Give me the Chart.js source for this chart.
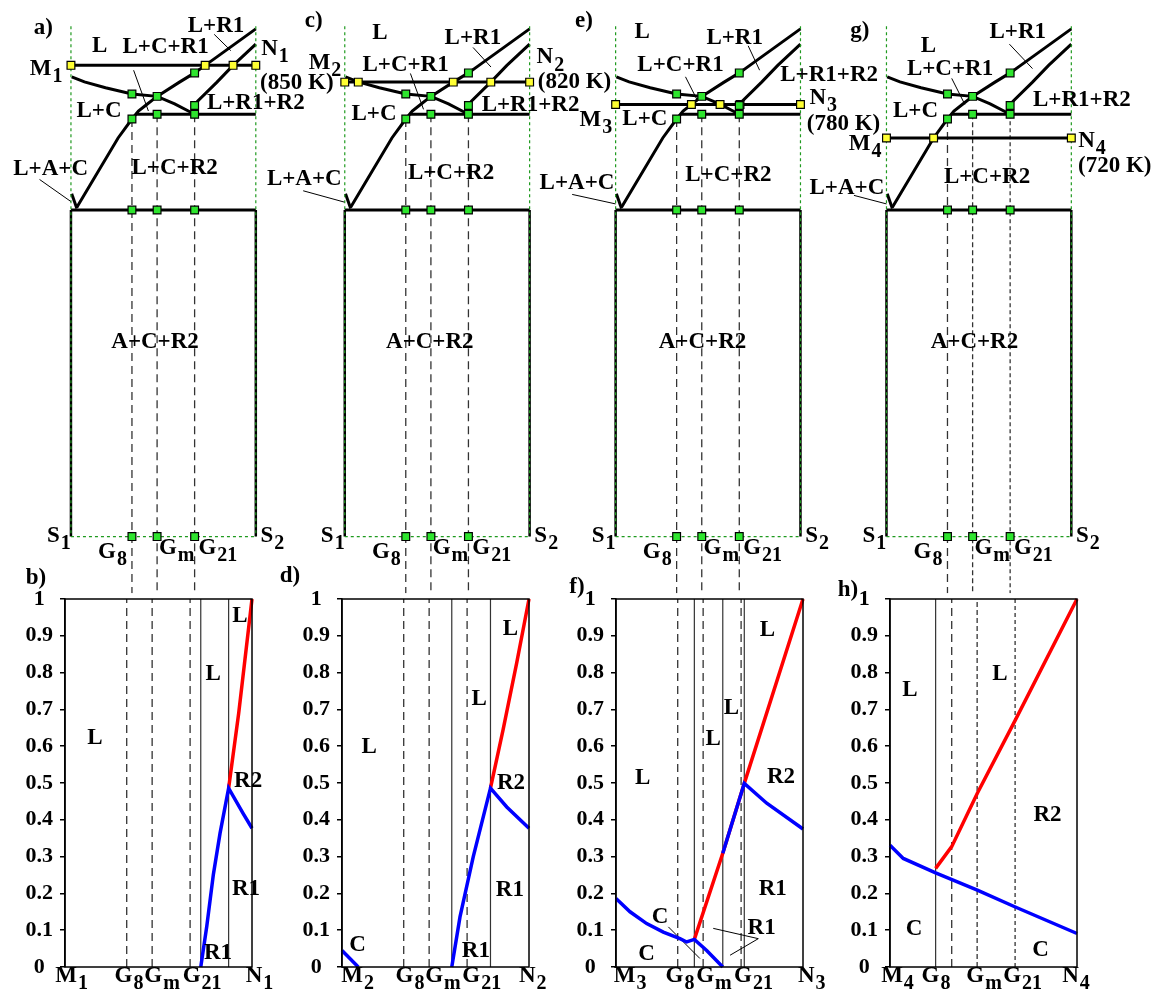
<!DOCTYPE html>
<html><head><meta charset="utf-8">
<script src="https://cdn.jsdelivr.net/npm/chart.js@4.4.1/dist/chart.umd.min.js"></script>
<style>
html,body{margin:0;padding:0;background:#fff;}
#wrap{position:relative;width:1166px;height:1002px;overflow:hidden;background:#fff}
canvas{position:absolute}
</style></head><body><div id="wrap"></div>
<script>
// ================= DATA =================
// Phase diagram section S1–S2 (x: composition fraction from S1 to S2, y: temperature, K)
const sectionSubs = ['8', 'm', '21'];
const sectionX = [0.33, 0.466, 0.669];
const sectionStartT = [754, 762.5, 762.5];
const topT = 920, eutecticT = 591, baseT = 6.5, peritecticT = 762.5, peritecticFrom = 0.351;
const liquidusC = [[0.004,829.5],[0.073,820.5],[0.187,810],[0.33,798.7],[0.466,794.5],[0.561,780.9],[0.669,762.5]];
const liquidusR1 = [[0.032,596],[0.255,720],[0.33,754],[0.365,768.3],[0.41,780],[0.466,794.5],[0.587,820],[0.669,836.5],[0.726,850],[1,915.3]];
const boundaryR1R2 = [[0.669,778.25],[0.685,786],[0.79,820],[0.877,850],[1,888]];
const eutecticArm = [[0.004,620],[0.032,594]];
const greenPoints = [[0.33,798.7],[0.33,754],[0.33,591],[0.33,6.5],[0.466,794.5],[0.466,762.5],[0.466,591],[0.466,6.5],
                     [0.669,836.5],[0.669,778.25],[0.669,762.5],[0.669,591],[0.669,6.5]];
// isothermal sections M–N
const mnSubs = ['1','2','3','4'];
const mnT = [850, 820, 780, 720];
const yellowA = [0, 0.726, 0.877, 1];
const yellowC = [0, 0.073, 0.587, 0.79, 1];
const yellowE = [0, 0.41, 0.565, 0.673, 1];
const yellowG = [0, 0.255, 1];
// Phase fractions along M–N (x: composition, y: fraction)
const yTickLabels = ['0','0.1','0.2','0.3','0.4','0.5','0.6','0.7','0.8','0.9','1'];
const redB  = [[0.875,0.486],[0.929,0.69],[1,1]];
const blueB = [[0.726,0],[0.758,0.11],[0.793,0.25],[0.829,0.363],[0.875,0.486],[0.953,0.417],[1,0.377]];
const vertB = [0.726, 0.875];
const redD  = [[0.794,0.486],[0.861,0.644],[0.934,0.826],[1,1]];
const blueD1 = [[0,0.045],[0.087,0]];
const blueD2 = [[0.587,0],[0.631,0.136],[0.702,0.3],[0.794,0.486],[0.881,0.435],[1,0.377]];
const vertD = [0.587, 0.794];
const redF  = [[0.419,0.075],[0.571,0.309],[0.686,0.499],[1,1]];
const blueF1 = [[0,0.186],[0.075,0.15],[0.164,0.118],[0.253,0.095],[0.342,0.077],[0.378,0.068],[0.419,0.075],[0.485,0.045],[0.571,0]];
const blueF2 = [[0.571,0.309],[0.686,0.499],[0.806,0.445],[1,0.375]];
const vertF = [0.419, 0.571, 0.686];
const redH  = [[0.244,0.268],[0.33,0.327],[0.467,0.472],[0.67,0.671],[1,1]];
const blueH = [[0,0.331],[0.071,0.295],[0.244,0.256],[0.467,0.209],[0.67,0.163],[1,0.091]];
const vertH = [0.244];

// ================= LAYOUT / LABELS =================
const panelX0 = [65, 342, 616, 890];
const PW = 187;
const commonTop = [['S','1',-0.065,8.25],['S','2',1.09,8.25],['G','8',0.225,-21.5],['G','m',0.572,-14.5],['G','21',0.795,-14.5]];
const topLabels = [
 [['a)','',-0.15,916.5],['L','',0.155,885],['L+R1','',0.785,920],['L+C+R1','',0.512,883.6],['M','1',-0.134,843],['N','1',1.104,879],
  ['(850 K)','',1.222,818.5],['L+C','',0.152,768],['L+R1+R2','',1.0,783],['L+C+R2','',0.561,666.25],['L+A+C','',-0.11,664.5],['A+C+R2','',0.455,354.75]],
 [['c)','',-0.168,928.75],['L','',0.19,907],['L+R1','',0.693,899.5],['L+C+R1','',0.329,850],['M','2',-0.107,855],['N','2',1.112,864],
  ['(820 K)','',1.243,820.25],['L+C','',0.158,762.5],['L+R1+R2','',1.005,778.25],['L+C+R2','',0.575,657.5],['L+A+C','',-0.219,647],['A+C+R2','',0.46,354.75]],
 [['e)','',-0.171,928.75],['L','',0.144,909.5],['L+R1','',0.644,899.6],['L+C+R1','',0.351,850],['M','3',-0.107,752],['N','3',1.123,792],
  ['(780 K)','',1.233,745],['L+C','',0.158,754.6],['L+R1+R2','',1.155,832.5],['L+C+R2','',0.61,653],['L+A+C','',-0.209,640],['A+C+R2','',0.47,354.75]],
 [['g)','',-0.144,911],['L','',0.227,884],['L+R1','',0.71,909.8],['L+C+R1','',0.344,844],['M','4',-0.115,710],['N','4',1.112,715],
  ['(720 K)','',1.235,669.75],['L+C','',0.157,768.3],['L+R1+R2','',1.057,788.75],['L+C+R2','',0.544,649.6],['L+A+C','',-0.214,631],['A+C+R2','',0.476,354.75]]
];
const topLeaders = [
 [[[0.339,841.25],[0.419,768.3]],[[0.775,905.5],[0.865,876.25]],[[-0.17,645.8],[0,606.2]]],
 [[[0.355,835.5],[0.426,771.25]],[[0.694,882],[0.791,847]],[[-0.225,625.5],[0,605]]],
 [[[0.378,829.5],[0.44,788.75]],[[0.717,885],[0.779,841.25]],[[-0.235,619],[0,602]]],
 [[[0.353,826.7],[0.424,780]],[[0.665,888],[0.79,844.2]],[[-0.176,617.25],[0,602]]]
];
const topYellow = [yellowA, yellowC, yellowE, yellowG];
const topDash = [[[8,5],[8,5],[8,5]],[[8,5],[8,5],[8,5]],[[8,5],[8,5],[8,5]],[[8,5],[5,3],[4,3]]];

const bottomLabels = [
 [['b)','',-0.155,1.058],['L','',0.16,0.622],['L','',0.793,0.797],['L','',0.936,0.953],['R2','',0.979,0.504],['R1','',0.968,0.213],['R1','',0.818,0.039],
  ['M','1',0.035,-0.025],['G','8',0.342,-0.025],['G','m',0.519,-0.025],['G','21',0.733,-0.025],['N','1',1.04,-0.025]],
 [['d)','',-0.278,1.062],['L','',0.145,0.599],['L','',0.733,0.729],['L','',0.9,0.919],['R2','',0.904,0.499],['R1','',0.898,0.21],['R1','',0.716,0.043],['C','',0.083,0.059],
  ['M','2',0.083,-0.025],['G','8',0.364,-0.025],['G','m',0.54,-0.025],['G','21',0.747,-0.025],['N','2',1.02,-0.025]],
 [['f)','',-0.209,1.032],['L','',0.142,0.513],['L','',0.519,0.619],['L','',0.617,0.703],['L','',0.81,0.916],['R2','',0.882,0.517],['R1','',0.838,0.213],['R1','',0.779,0.107],['C','',0.235,0.136],['C','',0.164,0.036],
  ['M','3',0.075,-0.025],['G','8',0.342,-0.025],['G','m',0.524,-0.025],['G','21',0.735,-0.025],['N','3',1.047,-0.025]],
 [['h)','',-0.225,1.025],['L','',0.107,0.753],['L','',0.588,0.797],['R2','',0.842,0.413],['C','',0.128,0.104],['C','',0.805,0.045],
  ['M','4',0.04,-0.025],['G','8',0.246,-0.025],['G','m',0.503,-0.025],['G','21',0.709,-0.025],['N','4',0.995,-0.025]]
];
const bottomLeaders = [[],[],[[[0.28,0.109],[0.449,0.023]],[[0.761,0.077],[0.52,0.105]],[[0.761,0.077],[0.61,0.032]]],[]];
const bottomRed = [[redB],[redD],[redF],[redH]];
const bottomBlue = [[blueB],[blueD1,blueD2],[blueF1,blueF2],[blueH]];
const bottomVert = [vertB, vertD, vertF, vertH];

// ================= RENDER =================
const FONT = '"Liberation Serif","Times New Roman",serif';
Chart.defaults.font.family = FONT;
const decor = new WeakMap();
Chart.register({
  id: 'decor',
  afterDraw(chart) {
    const d = decor.get(chart.canvas); if (!d) return;
    const {ctx, chartArea: a} = chart; const xs = chart.scales.x, ys = chart.scales.y;
    ctx.save();
    if (d.box) { ctx.strokeStyle = '#000'; ctx.lineWidth = 1.5; ctx.strokeRect(a.left, a.top, a.right - a.left, a.bottom - a.top); }
    ctx.fillStyle = '#000'; ctx.textBaseline = 'middle'; ctx.textAlign = 'left';
    for (const [t, s, x, y] of d.labels) {
      const size = 23, ssize = 20;
      const px = xs.getPixelForValue(x), py = ys.getPixelForValue(y);
      ctx.font = `bold ${size}px ${FONT}`; const w1 = ctx.measureText(t).width;
      let w2 = 0; if (s) { ctx.font = `bold ${ssize}px ${FONT}`; w2 = ctx.measureText(s).width + 1; }
      const left = px - (w1 + w2) / 2;
      ctx.font = `bold ${size}px ${FONT}`; ctx.fillText(t, left, py);
      if (s) { ctx.font = `bold ${ssize}px ${FONT}`; ctx.fillText(s, left + w1 + 1, py + 8); }
    }
    ctx.restore();
  }
});
const wrap = document.getElementById('wrap');
function mk(left, top, w, h) {
  const c = document.createElement('canvas'); c.width = w; c.height = h;
  c.style.left = left + 'px'; c.style.top = top + 'px'; c.style.width = w + 'px'; c.style.height = h + 'px';
  wrap.appendChild(c); return c;
}
const pts = a => a.map(([x, y]) => ({x, y}));
function lineDs(data, o) {
  return Object.assign({data: pts(data), showLine: true, pointRadius: 0, borderColor: '#000', borderWidth: 3, fill: false, tension: 0, order: 3}, o || {});
}
function pointDs(data, color) {
  return {data: pts(data), showLine: false, pointStyle: 'rect', pointRadius: 5.5, pointBackgroundColor: color, pointBorderColor: '#000', pointBorderWidth: 1.2, order: 0};
}

function topChart(i) {
  const X0 = panelX0[i];
  const c = mk(0, 0, 1166, 600);
  const ds = [];
  const green = '#1f9a1f';
  ds.push(lineDs([[0, topT],[0, baseT]], {borderColor: green, borderWidth: 1.2, borderDash: [3,3], order: 1}));
  ds.push(lineDs([[1, topT],[1, baseT]], {borderColor: green, borderWidth: 1.2, borderDash: [3,3], order: 1}));
  ds.push(lineDs([[0, baseT],[1, baseT]], {borderColor: green, borderWidth: 1.2, borderDash: [3,3], order: 1}));
  ds.push(lineDs([[0, eutecticT],[0, baseT]], {borderWidth: 2.5, order: 4}));
  ds.push(lineDs([[1, eutecticT],[1, baseT]], {borderWidth: 2.5, order: 4}));
  ds.push(lineDs([[0, eutecticT],[1, eutecticT]]));
  ds.push(lineDs(eutecticArm));
  ds.push(lineDs(liquidusC));
  ds.push(lineDs(liquidusR1));
  ds.push(lineDs(boundaryR1R2));
  ds.push(lineDs([[peritecticFrom, peritecticT],[1, peritecticT]]));
  ds.push(lineDs([[0, mnT[i]],[1, mnT[i]]]));
  sectionX.forEach((x, k) => ds.push(lineDs([[x, sectionStartT[k]],[x, -95]], {borderColor: '#333', borderWidth: 1.3, borderDash: topDash[i][k], order: 5})));
  topLeaders[i].forEach(l => ds.push(lineDs(l, {borderWidth: 1, order: 2})));
  ds.push(pointDs(greenPoints, '#2ee52e'));
  ds.push(pointDs(topYellow[i].map(x => [x, mnT[i]]), '#ffff33'));
  decor.set(c, {labels: topLabels[i].concat(commonTop), box: false});
  new Chart(c, {type: 'scatter', data: {datasets: ds}, options: {
    responsive: false, animation: false, events: [], layout: {padding: 0},
    plugins: {legend: {display: false}, tooltip: {enabled: false}},
    scales: {x: {type: 'linear', display: false, min: -X0 / PW, max: (1166 - X0) / PW},
             y: {type: 'linear', display: false, min: -95, max: 955}}
  }});
}

function bottomChart(i) {
  const X0 = panelX0[i];
  const c = mk(X0 - 62, 560, 62 + PW + 30, 442);
  const ds = [];
  sectionX.forEach((x, k) => ds.push(lineDs([[x, 0],[x, 1]], {borderColor: '#333', borderWidth: 1.3, borderDash: topDash[i][k], order: 5})));
  bottomVert[i].forEach(x => ds.push(lineDs([[x, 0],[x, 1]], {borderColor: '#333', borderWidth: 1.2, order: 4})));
  bottomRed[i].forEach(r => ds.push(lineDs(r, {borderColor: '#ff0000', borderWidth: 3.5, order: 2, clip: 4})));
  bottomBlue[i].forEach(b => ds.push(lineDs(b, {borderColor: '#0000ff', borderWidth: 3.5, order: 1, clip: 4})));
  bottomLeaders[i].forEach(l => ds.push(lineDs(l, {borderWidth: 1, order: 3})));
  decor.set(c, {labels: bottomLabels[i], box: true});
  new Chart(c, {type: 'scatter', data: {datasets: ds}, options: {
    responsive: false, animation: false, events: [],
    layout: {padding: {top: 39, bottom: 35, right: 30, left: 0}},
    plugins: {legend: {display: false}, tooltip: {enabled: false}},
    scales: {
      x: {type: 'linear', display: false, min: 0, max: 1},
      y: {type: 'linear', position: 'left', min: 0, max: 1,
          afterFit: s => { s.width = 62; },
          ticks: {stepSize: 0.1, crossAlign: 'center', padding: 7, color: '#000',
                  font: {family: FONT, size: 22, weight: 'bold'}, callback: (v, idx) => yTickLabels[idx]},
          grid: {drawOnChartArea: false, drawTicks: true, tickLength: 5, color: '#000', lineWidth: 1.5},
          border: {display: true, color: '#000', width: 1.5}}
    }
  }});
}
for (let i = 0; i < 4; i++) { topChart(i); bottomChart(i); }
</script></body></html>
